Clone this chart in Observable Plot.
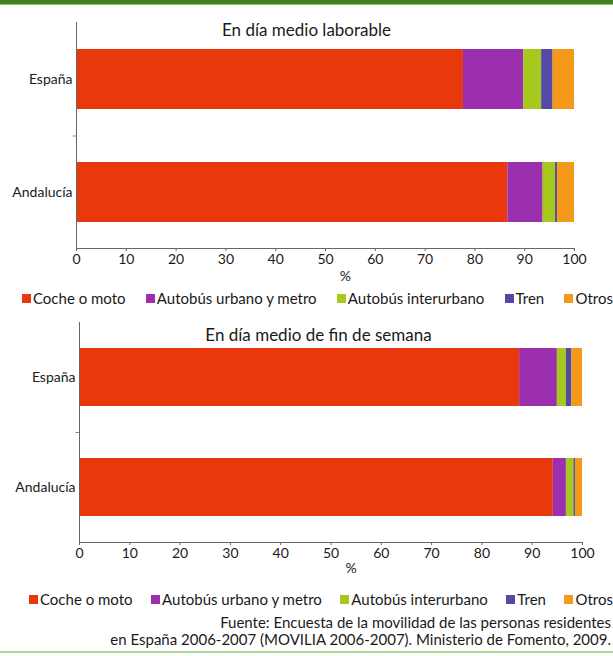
<!DOCTYPE html>
<html>
<head>
<meta charset="utf-8">
<script src="https://cdn.jsdelivr.net/npm/d3@7"></script>
<script src="https://cdn.jsdelivr.net/npm/@observablehq/plot@0.6"></script>
<style>
  html, body { margin: 0; padding: 0; background: #fff; }
  #page { position: relative; width: 613px; height: 656px; overflow: hidden; font-family: Lato, "Open Sans", sans-serif; color: #1a1a1a; }
  .band-top { position: absolute; left: 0; top: 0; width: 613px; height: 4px; background: #3f7f1c; border-bottom: 1px solid #8cc46a; }
  .band-bottom { position: absolute; left: 0; top: 651px; width: 613px; height: 2px; background: #a9d890; }
  .title { position: absolute; left: 0; width: 613px; font-size: 17px; text-align: center; }
  .plot { position: absolute; left: 0; }
  .legend { position: absolute; display: flex; justify-content: space-between; align-items: center; font-size: 15px; white-space: nowrap; }
  .legend span.item { display: inline-flex; align-items: center; }
  .legend span.sw { display: inline-block; width: 9px; height: 9px; margin-right: 2px; }
  .caption { position: absolute; right: 2px; top: 614px; text-align: right; font-size: 15px; line-height: 17px; white-space: nowrap; }
</style>
</head>
<body>
<div id="page">
  <div class="band-top"></div>
  <div class="band-bottom"></div>
</div>
<script>
const regions = ["España", "Andalucía"];
const modes = ["Coche o moto", "Autobús urbano y metro", "Autobús interurbano", "Tren", "Otros"];
const modeColors = ["#e8380c", "#9b2fae", "#a5c91c", "#5649a5", "#f4991a"];
const xTicks = [0, 10, 20, 30, 40, 50, 60, 70, 80, 90, 100];

const laborableEspana = [77.7, 12.1, 3.6, 2.3, 4.3];
const laborableAndalucia = [86.6, 7.1, 2.5, 0.4, 3.4];
const finSemanaEspana = [87.5, 7.5, 1.8, 1.1, 2.1];
const finSemanaAndalucia = [94.2, 2.6, 1.5, 0.3, 1.4];

const titles = ["En día medio laborable", "En día medio de fin de semana"];
const captionLines = [
  "Fuente: Encuesta de la movilidad de las personas residentes",
  "en España 2006-2007 (MOVILIA 2006-2007). Ministerio de Fomento, 2009."
];

function rows(espana, andalucia) {
  const out = [];
  [espana, andalucia].forEach((vals, r) => {
    vals.forEach((v, i) => out.push({region: regions[r], mode: modes[i], value: v}));
  });
  return out;
}

function makeChart(data, opts) {
  const innerH = opts.height - opts.marginTop - opts.marginBottom;
  const step = innerH / regions.length;
  return Plot.plot({
    width: 613,
    height: opts.height,
    marginTop: opts.marginTop,
    marginBottom: opts.marginBottom,
    marginLeft: opts.marginLeft,
    marginRight: opts.marginRight,
    style: {fontFamily: "Lato, 'Open Sans', sans-serif", fontSize: "14px", color: "#1a1a1a", background: "transparent"},
    x: {domain: [0, 100]},
    y: {domain: regions, paddingInner: 0.47, paddingOuter: 0.235},
    color: {domain: modes, range: modeColors},
    marks: [
      Plot.barX(data, {x: "value", y: "region", fill: "mode", inset: 0}),
      Plot.frame({anchor: "left", stroke: "#666"}),
      Plot.frame({anchor: "bottom", stroke: "#666"}),
      Plot.ruleY([regions[1]], {x1: -0.7, x2: 0, dy: -step / 2, stroke: "#888"}),
      Plot.axisY({tickSize: 0, tickPadding: 4, label: null, fontSize: 14}),
      Plot.axisX({ticks: xTicks, tickSize: 3, tickPadding: 3, tickFormat: d => String(d), label: null, fontSize: 14, stroke: "#666"}),
      Plot.text(["%"], {x: 54, frameAnchor: "bottom", dy: opts.pctOffset, fontSize: 14})
    ]
  });
}

const page = document.getElementById("page");

function addPlot(svg, top) {
  const wrap = document.createElement("div");
  wrap.className = "plot";
  wrap.style.top = top + "px";
  wrap.appendChild(svg);
  page.appendChild(wrap);
}

addPlot(makeChart(rows(laborableEspana, laborableAndalucia),
  {height: 290, marginTop: 22, marginBottom: 42, marginLeft: 76, marginRight: 39, pctOffset: 32}), 0);
addPlot(makeChart(rows(finSemanaEspana, finSemanaAndalucia),
  {height: 272, marginTop: 12, marginBottom: 40, marginLeft: 79, marginRight: 31, pctOffset: 30}), 310);

function addTitle(text, top) {
  const d = document.createElement("div");
  d.className = "title";
  d.style.top = top + "px";
  d.textContent = text;
  page.appendChild(d);
}
addTitle(titles[0], 19);
addTitle(titles[1], 324);
document.querySelectorAll(".title")[1].style.left = "12px";

function addLegend(top, left) {
  const d = document.createElement("div");
  d.className = "legend";
  d.style.top = top + "px";
  d.style.left = left + "px";
  d.style.width = (613 - left) + "px";
  modes.forEach((m, i) => {
    const it = document.createElement("span");
    it.className = "item";
    const sw = document.createElement("span");
    sw.className = "sw";
    sw.style.background = modeColors[i];
    it.appendChild(sw);
    it.appendChild(document.createTextNode(m));
    d.appendChild(it);
  });
  page.appendChild(d);
}
addLegend(289, 22);
addLegend(590, 29);

const cap = document.createElement("div");
cap.className = "caption";
cap.innerHTML = captionLines.join("<br>");
page.appendChild(cap);
</script>
</body>
</html>
